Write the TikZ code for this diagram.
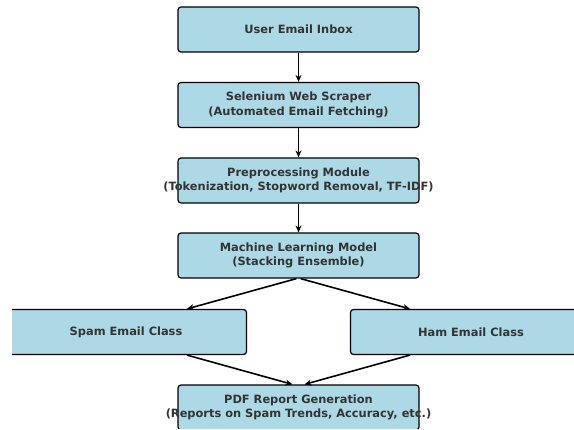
\documentclass[tikz,border=0pt]{standalone}
\usepackage{fontspec}
\setmainfont{DejaVu Sans}
\usetikzlibrary{arrows.meta,positioning}
\definecolor{boxfill}{HTML}{ADD8E6}
\definecolor{boxtext}{HTML}{333333}
\tikzset{
  stage/.style={rectangle, draw=black, line width=1.2pt, rounded corners=3pt, fill=boxfill, minimum width=241pt, minimum height=45pt, inner sep=0pt, align=center, text=boxtext, font=\fontsize{11.4}{14.5}\selectfont\bfseries},
  flow/.style={line width=1.6pt, -{Stealth[length=7pt, width=6pt]}}
}

\begin{document}
\begin{tikzpicture}[x=1pt, y=-1pt]
  \useasboundingbox (0,0) rectangle (574,430);

  % Pipeline stages (the outer boxes are cut by the frame)
  \begin{scope}
    \clip (12,0) rectangle (574,429);
    \node[stage] (inbox) at (298.5,29.5) {User Email Inbox};
    \node[stage] (scraper) at (298.5,105) {Selenium Web Scraper\\(Automated Email Fetching)};
    \node[stage] (prep) at (298.5,180.5) {Preprocessing Module\\\makebox[0pt]{(Tokenization, Stopword Removal, TF-IDF)}};
    \node[stage] (model) at (298.5,255.5) {Machine Learning Model\\(Stacking Ensemble)};
    \node[stage] (spam) at (126,332) {Spam Email Class};
    \node[stage] (ham) at (471,332) {Ham Email Class};
    \node[stage] (report) at (298.5,407.5) {PDF Report Generation\\\makebox[0pt]{(Reports on Spam Trends, Accuracy, etc.)}};
  \end{scope}

  % Straight chain
  \draw[flow] (inbox) -- (scraper);
  \draw[flow] (scraper) -- (prep);
  \draw[flow] (prep) -- (model);

  % Split into the two classes and merge again
  \draw[flow] ([xshift=-2pt]model.south) -- ([xshift=61pt]spam.north);
  \draw[flow] ([xshift=2pt]model.south) -- ([xshift=-61pt]ham.north);
  \draw[flow] ([xshift=61pt]spam.south) -- ([xshift=-6pt]report.north);
  \draw[flow] ([xshift=-61pt]ham.south) -- ([xshift=6pt]report.north);

\end{tikzpicture}
\end{document}
